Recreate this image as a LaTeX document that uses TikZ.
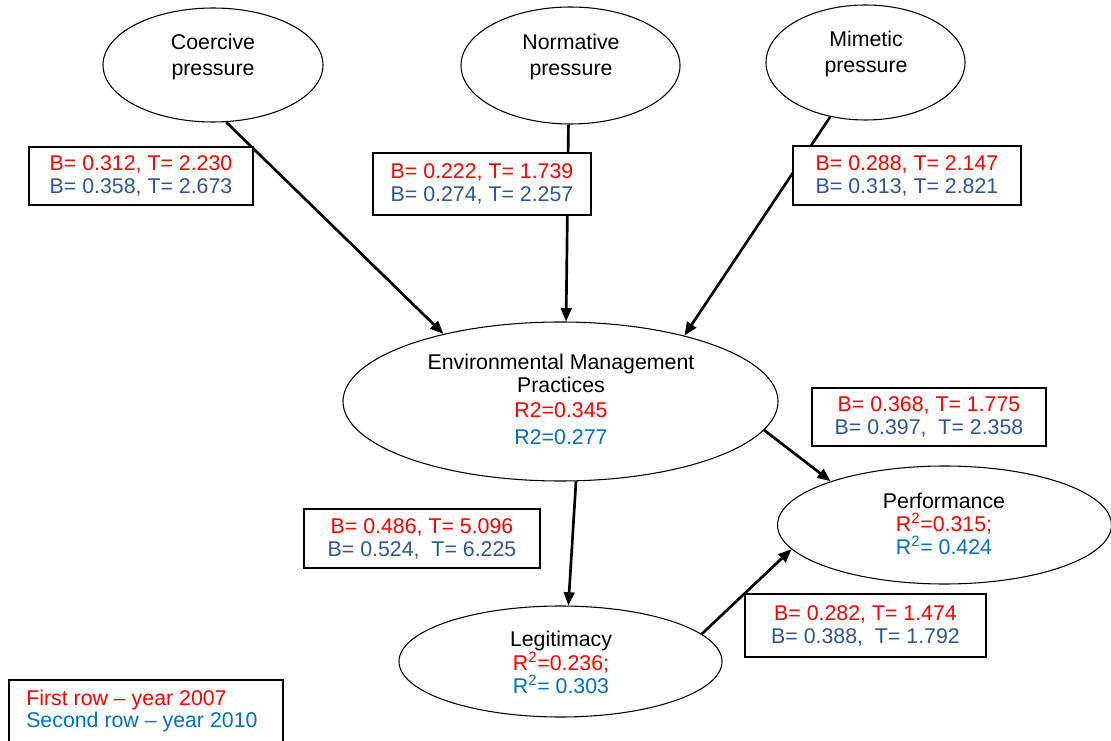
\documentclass[tikz,border=0pt]{standalone}
\usepackage{fontspec}
\setmainfont{Liberation Sans}
\usetikzlibrary{shapes.geometric,arrows.meta}
\definecolor{cred}{RGB}{255,0,0}
\definecolor{cdblue}{RGB}{47,85,151}
\definecolor{clblue}{RGB}{0,112,192}
\begin{document}
\begin{tikzpicture}[x=0.75pt,y=-0.75pt,
  every node/.style={font=\fontsize{16}{17.2}\selectfont},
  ell/.style={ellipse,draw,line width=0.8pt,fill=white,inner sep=0pt},
  lbl/.style={align=center,inner sep=0pt},
  valbox/.style={draw,line width=1pt,fill=white,align=center,inner sep=0pt},
  arr/.style={-{Triangle[length=10pt,width=8pt]},line width=2pt},
  ]
\useasboundingbox (0,0) rectangle (1111,741);
% ellipses
\node[ell,minimum width=165pt,minimum height=85.5pt] (coer) at (213,65) {};
\node[ell,minimum width=164.25pt,minimum height=87.75pt] (norm) at (570.5,65.5) {};
\node[ell,minimum width=149.25pt,minimum height=86.25pt] (mim) at (865.5,62.5) {};
\node[ell,minimum width=326.25pt,minimum height=119.25pt] (emp) at (560.5,401.5) {};
\node[ell,minimum width=250.5pt,minimum height=88.5pt] (perf) at (944.5,525) {};
\node[ell,minimum width=242.25pt,minimum height=83.25pt] (legit) at (560.5,661.5) {};
% ellipse texts
\node[lbl] (coert) at (213,57) {Coercive\\[2.5pt]pressure};
\node[lbl] (normt) at (571,57) {Normative\\[2.5pt]pressure};
\node[lbl] (mimt) at (866,54) {Mimetic\\[2.5pt]pressure};
\node[lbl] (empt) at (561,399.5) {Environmental Management\\Practices\\[1.5pt]{\color{cred}R2=0.345}\\[3pt]{\color{clblue}R2=0.277}};
\node[lbl] (perft) at (944,524) {Performance\\{\color{cred}R\textsuperscript{2}=0.315;}\\{\color{clblue}R\textsuperscript{2}= 0.424}};
\node[lbl] (legitt) at (561,662.5) {Legitimacy\\{\color{cred}R\textsuperscript{2}=0.236;}\\{\color{clblue}R\textsuperscript{2}= 0.303}};
% arrows
\draw[arr] (coer.-77) -- (emp.150);
\draw[arr] (norm.-92) -- (emp.86);
\draw[arr] (mim.-123) -- (emp.28);
\draw[arr] (emp.-79) -- (legit.82);
\draw[arr] (emp.-8) -- (perf.159);
\draw[arr] (legit.11) -- (perf.-171);
% value boxes
\node[valbox,minimum width=168pt,minimum height=43.5pt] (b1) at (141,176) {{\color{cred}B= 0.312, T= 2.230}\\{\color{cdblue}B= 0.358, T= 2.673}};
\node[valbox,minimum width=163.5pt,minimum height=46.5pt] (b2) at (482,184) {{\color{cred}B= 0.222, T= 1.739}\\{\color{cdblue}B= 0.274, T= 2.257}};
\node[valbox,minimum width=171pt,minimum height=44.25pt] (b3) at (907,175.5) {{\color{cred}B= 0.288, T= 2.147}\\{\color{cdblue}B= 0.313, T= 2.821}};
\node[valbox,minimum width=175.5pt,minimum height=43.5pt] (b4) at (929,417) {{\color{cred}B= 0.368, T= 1.775}\\{\color{cdblue}B= 0.397,\ \ T= 2.358}};
\node[valbox,minimum width=177pt,minimum height=44.25pt] (b5) at (422,538.5) {{\color{cred}B= 0.486, T= 5.096}\\{\color{cdblue}B= 0.524,\ \ T= 6.225}};
\node[valbox,minimum width=180.75pt,minimum height=47.25pt] (b6) at (865.5,625.5) {{\color{cred}B= 0.282, T= 1.474}\\{\color{cdblue}B= 0.388,\ \ T= 1.792}};
% legend
\node[draw,line width=1pt,minimum width=205.5pt,minimum height=48.75pt,inner sep=0pt] (leg) at (146,712.5) {};
\node[align=left,anchor=west,inner sep=0pt] (legt) at (26,711) {{\color{cred}First row -- year 2007}\\{\color{clblue}Second row -- year 2010}};
\end{tikzpicture}
\end{document}
